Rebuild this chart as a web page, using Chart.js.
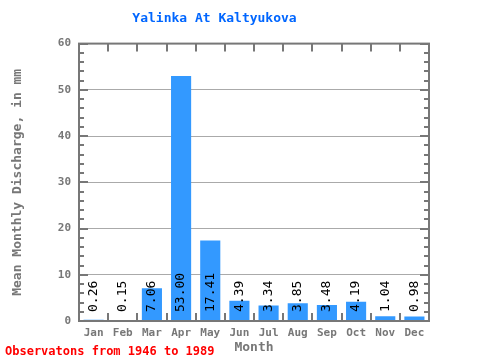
<!DOCTYPE html>
<html>
<head>
<meta charset="utf-8">
<script src="https://cdn.jsdelivr.net/npm/chart.js@4"></script>
<style>
	body { margin: 0; background: #fff; }
	#wrap { width: 480px; height: 360px; }
</style>
</head>
<body>
<div id="wrap"><canvas id="chart" width="480" height="360"></canvas></div>
<script>
// donnees
const months = ['Jan', 'Feb', 'Mar', 'Apr', 'May', 'Jun', 'Jul', 'Aug', 'Sep', 'Oct', 'Nov', 'Dec'];
const discharge = [0.26, 0.15, 7.06, 53.00, 17.41, 4.39, 3.34, 3.85, 3.48, 4.19, 1.04, 0.98];
const yTicks = [0, 10, 20, 30, 40, 50, 60];

const MONO = '"DejaVu Sans Mono", "Liberation Mono", monospace';
const AXIS_GRAY = '#777777';

// cadre + petits ticks vers l'interieur
const framePlugin = {
	id: 'frame',
	afterDatasetsDraw(chart) {
		const ctx = chart.ctx;
		const a = chart.chartArea;
		const y = chart.scales.y;
		ctx.save();
		ctx.strokeStyle = AXIS_GRAY;
		ctx.lineWidth = 2;
		ctx.beginPath();
		for (let v = 0; v <= 60; v += 2) {
			const py = Math.round(y.getPixelForValue(v));
			const len = (v % 10 === 0) ? 9 : 5;
			ctx.moveTo(a.left, py); ctx.lineTo(a.left + len, py);
			ctx.moveTo(a.right, py); ctx.lineTo(a.right - len, py);
		}
		const slot = (a.right - a.left) / months.length;
		for (let i = 1; i < months.length; i++) {
			const px = Math.round(a.left + i * slot);
			ctx.moveTo(px, a.top); ctx.lineTo(px, a.top + 8);
			ctx.moveTo(px, a.bottom); ctx.lineTo(px, a.bottom - 8);
		}
		ctx.stroke();
		ctx.strokeRect(a.left, a.top, a.right - a.left, a.bottom - a.top);
		ctx.restore();
	}
};

// valeurs ecrites verticalement dans les barres
const labelPlugin = {
	id: 'barLabels',
	afterDatasetsDraw(chart) {
		const ctx = chart.ctx;
		const meta = chart.getDatasetMeta(0);
		const base = chart.scales.y.getPixelForValue(0);
		ctx.save();
		ctx.fillStyle = '#000';
		ctx.font = '13px ' + MONO;
		ctx.textAlign = 'left';
		ctx.textBaseline = 'middle';
		meta.data.forEach((bar, i) => {
			ctx.save();
			ctx.translate(bar.x, base - 9);
			ctx.rotate(-Math.PI / 2);
			ctx.fillText(discharge[i].toFixed(2), 0, 0);
			ctx.restore();
		});
		ctx.restore();
	}
};

// note en rouge en bas a gauche
const footerPlugin = {
	id: 'footNote',
	afterDraw(chart) {
		const ctx = chart.ctx;
		ctx.save();
		ctx.fillStyle = '#ff0000';
		ctx.font = 'bold 12px ' + MONO;
		ctx.textAlign = 'left';
		ctx.textBaseline = 'middle';
		ctx.fillText('Observatons from 1946 to 1989', 5, 352);
		ctx.restore();
	}
};

new Chart(document.getElementById('chart'), {
	type: 'bar',
	data: {
		labels: months,
		datasets: [{
			data: discharge,
			backgroundColor: '#3399ff',
			borderWidth: 0,
			barPercentage: 0.69,
			categoryPercentage: 1.0
		}]
	},
	options: {
		responsive: false,
		animation: false,
		layout: { padding: { left: 0, right: 51, top: 0, bottom: 0 } },
		plugins: {
			legend: { display: false },
			tooltip: { enabled: false },
			title: {
				display: true,
				text: 'Yalinka At Kaltyukova',
				color: '#0066ff',
				font: { family: MONO, size: 13, weight: 'bold' },
				padding: { top: 11, bottom: 17 }
			}
		},
		scales: {
			x: {
				grid: { display: false, drawTicks: false },
				border: { display: false },
				ticks: { color: AXIS_GRAY, font: { family: MONO, size: 11, weight: 'bold' }, padding: 6 },
				title: {
					display: true,
					text: 'Month',
					color: AXIS_GRAY,
					font: { family: MONO, size: 13, weight: 'bold' },
					padding: { top: 0, bottom: 5 }
				},
				afterFit: s => { s.height = 39; }
			},
			y: {
				min: 0,
				max: 60,
				afterBuildTicks: s => { s.ticks = yTicks.map(v => ({ value: v })); },
				grid: { color: '#aaaaaa', lineWidth: 1, drawTicks: false },
				border: { display: false },
				ticks: { color: AXIS_GRAY, font: { family: MONO, size: 11, weight: 'bold' }, padding: 8 },
				title: {
					display: true,
					text: 'Mean Monthly Discharge, in mm',
					color: AXIS_GRAY,
					font: { family: MONO, size: 13, weight: 'bold' },
					padding: { top: 10, bottom: 0 }
				},
				afterFit: s => { s.width = 79; }
			}
		}
	},
	plugins: [framePlugin, labelPlugin, footerPlugin]
});
</script>
</body>
</html>
